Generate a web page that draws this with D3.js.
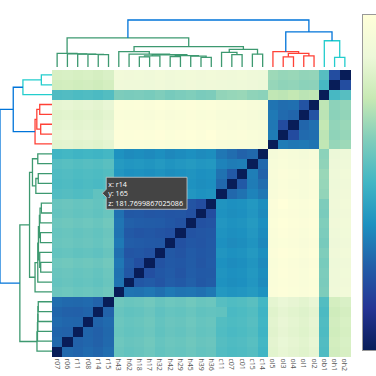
<!DOCTYPE html>
<html>
<head>
<meta charset="utf-8">
<script src="https://cdn.jsdelivr.net/npm/d3@7"></script>
<style>
  html, body { margin: 0; padding: 0; background: #fff; }
  svg { display: block; font-family: "Open Sans", "Liberation Sans", sans-serif; }
</style>
</head>
<body>
<div id="chart"></div>
<script>
"use strict";

// leaf order of the clustering (columns left to right, rows bottom to top)
const labels = ["r07", "r06", "r11", "r08", "r14", "r15",
    "h43", "h62", "h18", "h17", "h32", "h42", "h29", "h45", "h39", "h36",
    "c11", "c07", "c01", "c15", "c14",
    "ol5", "ol3", "ol4", "ol1", "ol2",
    "ob1", "oh1", "oh2"];

// pairwise distances, upper triangle: row i holds labels i+1 .. end
const upper = [
    [88, 85, 90, 86, 92, 188, 184, 186, 190, 183, 187, 185, 189, 184, 186, 172, 168, 170, 174, 160, 270, 276, 272, 268, 274, 170, 252, 258],
    [84, 87, 83, 89, 190, 186, 188, 192, 185, 189, 187, 191, 186, 188, 174, 170, 172, 176, 162, 272, 278, 274, 270, 276, 172, 254, 260],
    [86, 82, 88, 187, 183, 185, 189, 182, 186, 184, 188, 183, 185, 171, 167, 169, 173, 159, 269, 275, 271, 267, 273, 169, 251, 257],
    [85, 90, 189, 185, 187, 191, 184, 188, 186, 190, 185, 187, 173, 169, 171, 175, 161, 271, 277, 273, 269, 275, 171, 253, 259],
    [84, 186, 182, 184, 188, 181, 185, 183, 187, 182, 184, 181.7699867025086, 167, 169, 173, 159, 268, 274, 270, 266, 272, 168, 250, 256],
    [191, 187, 189, 193, 186, 190, 188, 192, 187, 189, 175, 171, 173, 177, 163, 273, 279, 275, 271, 277, 173, 255, 261],
    [98, 96, 100, 94, 102, 97, 99, 95, 101, 128, 124, 126, 130, 122, 312, 318, 314, 310, 316, 200, 288, 292],
    [74, 78, 72, 80, 76, 82, 75, 79, 122, 118, 120, 126, 116, 310, 316, 312, 308, 314, 198, 286, 290],
    [66, 74, 78, 72, 80, 76, 77, 124, 120, 122, 128, 118, 311, 317, 313, 309, 315, 199, 287, 291],
    [70, 76, 74, 79, 73, 78, 121, 117, 119, 125, 115, 309, 315, 311, 307, 313, 197, 285, 289],
    [75, 71, 78, 74, 77, 125, 121, 123, 129, 119, 313, 319, 315, 311, 317, 201, 289, 293],
    [68, 74, 72, 76, 120, 116, 118, 124, 114, 308, 314, 310, 306, 312, 196, 284, 288],
    [70, 73, 75, 123, 119, 121, 127, 117, 311, 317, 313, 309, 315, 199, 287, 291],
    [68, 71, 126, 122, 124, 130, 120, 314, 320, 316, 312, 318, 202, 290, 294],
    [64, 122, 118, 120, 126, 116, 310, 316, 312, 308, 314, 198, 286, 290],
    [124, 120, 122, 128, 118, 312, 322, 314, 310, 316, 200, 288, 292],
    [88, 96, 110, 100, 306, 312, 308, 304, 310, 212, 286, 290],
    [76, 104, 92, 305, 311, 307, 303, 309, 214, 285, 289],
    [106, 84, 307, 313, 309, 305, 311, 216, 287, 291],
    [88, 303, 309, 305, 301, 307, 210, 283, 287],
    [300, 306, 302, 298, 304, 208, 281, 285],
    [104, 100, 102, 98, 238, 214, 218],
    [62, 90, 92, 236, 210, 214],
    [86, 94, 240, 212, 216],
    [70, 235, 208, 212],
    [237, 209, 213],
    [165, 175],
    [64]
];

// clustering merges: [node id, left, right, height, colour key]
const merges = [
    ["r1", "r14", "r15", 85, "g"],
    ["r2", "r08", "r1", 87, "g"],
    ["r3", "r11", "r2", 88, "g"],
    ["r4", "r06", "r3", 90, "g"],
    ["R", "r07", "r4", 93, "g"],
    ["h1", "h18", "h17", 70, "g"],
    ["h2", "h1", "h32", 76, "g"],
    ["h3", "h42", "h29", 72, "g"],
    ["h4", "h39", "h36", 66, "g"],
    ["h5", "h45", "h4", 74, "g"],
    ["h6", "h3", "h5", 78, "g"],
    ["h7", "h2", "h6", 84, "g"],
    ["h8", "h62", "h7", 88, "g"],
    ["H", "h43", "h8", 105, "g"],
    ["c1", "c07", "c01", 85, "g"],
    ["c2", "c11", "c1", 100, "g"],
    ["c3", "c15", "c14", 88, "g"],
    ["C", "c2", "c3", 121, "g"],
    ["HC", "H", "C", 139, "g"],
    ["G", "R", "HC", 199, "g"],
    ["l1", "ol3", "ol4", 70, "r"],
    ["l2", "ol1", "ol2", 76, "r"],
    ["l3", "l1", "l2", 94, "r"],
    ["L", "ol5", "l3", 105, "r"],
    ["o1", "oh1", "oh2", 66, "c"],
    ["O", "ob1", "o1", 180, "c"],
    ["LO", "L", "O", 240, "b"],
    ["root", "G", "LO", 322, "b"]
];

const linkColors = { b: "rgb(0,116,217)", c: "rgb(35,205,205)", g: "rgb(61,153,112)", r: "rgb(255,65,54)" };

// YlGnBu colour scale stops
const scaleStops = [0, 0.125, 0.25, 0.375, 0.5, 0.625, 0.75, 0.875, 1];
const scaleColors = ["rgb(8,29,88)", "rgb(37,52,148)", "rgb(34,94,168)", "rgb(29,145,192)",
    "rgb(65,182,196)", "rgb(127,205,187)", "rgb(199,233,180)", "rgb(237,248,217)", "rgb(255,255,217)"];

// hovered cell shown in the tooltip
const hoverCell = { x: "r14", y: "c11" };

function draw() {
    const width = 376;
    const height = 376;
    const n = labels.length;

    // full symmetric matrix
    let z = labels.map(() => new Array(n).fill(0));
    for (let i = 0; i < upper.length; i++) {
        for (let k = 0; k < upper[i].length; k++) {
            let j = i + 1 + k;
            z[i][j] = upper[i][k];
            z[j][i] = upper[i][k];
        }
    }
    let zMax = d3.max(z, row => d3.max(row));

    let svg = d3.select("#chart").append("svg")
        .attr("width", width)
        .attr("height", height);

    // heatmap scales
    let x = d3.scaleBand().domain(labels).range([52, 350]);
    let y = d3.scaleBand().domain(labels.slice().reverse()).range([70, 356]);
    let color = d3.scaleLinear()
        .domain(scaleStops.map(s => s * zMax))
        .range(scaleColors)
        .interpolate(d3.interpolateRgb);

    let cells = [];
    for (let i = 0; i < n; i++) {
        for (let j = 0; j < n; j++) {
            cells.push({ col: labels[i], row: labels[j], z: z[i][j] });
        }
    }

    svg.append("g")
        .attr("class", "heatmap")
        .selectAll("rect")
        .data(cells)
        .enter()
        .append("rect")
        .attr("x", d => x(d.col))
        .attr("y", d => y(d.row))
        .attr("width", x.bandwidth() + 0.5)
        .attr("height", y.bandwidth() + 0.5)
        .attr("shape-rendering", "crispEdges")
        .style("fill", d => color(d.z));

    // x tick labels
    let xAxis = d3.axisBottom(x).tickSize(0).tickPadding(2);
    let gx = svg.append("g")
        .attr("transform", "translate(0,356)")
        .call(xAxis);
    gx.select(".domain").remove();
    gx.selectAll("text")
        .attr("transform", "rotate(90)")
        .attr("x", 2.5)
        .attr("y", 0)
        .attr("dy", "0.35em")
        .style("text-anchor", "start")
        .style("font-size", "7px")
        .style("font-family", "\"Open Sans\", sans-serif")
        .style("fill", "#555");

    // dendrogram node positions
    let pos = {};
    labels.forEach((l, i) => { pos[l] = { p: i, h: 0 }; });
    merges.forEach(m => {
        pos[m[0]] = { p: (pos[m[1]].p + pos[m[2]].p) / 2, h: m[3] };
    });

    let leafX = d3.scaleLinear().domain([-0.5, n - 0.5]).range(x.range());
    let leafY = d3.scaleLinear().domain([-0.5, n - 0.5]).range([356, 70]);
    let topH = d3.scaleLinear().domain([0, 322]).range([67, 20]);
    let leftH = d3.scaleLinear().domain([0, 322]).range([52, 0]);
    let line = d3.line();

    // top dendrogram
    svg.append("g")
        .selectAll("path")
        .data(merges)
        .enter()
        .append("path")
        .attr("d", m => {
            let a = pos[m[1]], b = pos[m[2]];
            return line([[leafX(a.p), topH(a.h)], [leafX(a.p), topH(m[3])],
                [leafX(b.p), topH(m[3])], [leafX(b.p), topH(b.h)]]);
        })
        .style("fill", "none")
        .style("stroke", m => linkColors[m[4]])
        .style("stroke-width", 1.3);

    // left dendrogram
    svg.append("g")
        .selectAll("path")
        .data(merges)
        .enter()
        .append("path")
        .attr("d", m => {
            let a = pos[m[1]], b = pos[m[2]];
            return line([[leftH(a.h), leafY(a.p)], [leftH(m[3]), leafY(a.p)],
                [leftH(m[3]), leafY(b.p)], [leftH(b.h), leafY(b.p)]]);
        })
        .style("fill", "none")
        .style("stroke", m => linkColors[m[4]])
        .style("stroke-width", 1.3);

    // colour bar
    let grad = svg.append("defs").append("linearGradient")
        .attr("id", "cbar")
        .attr("x1", 0).attr("y1", 1).attr("x2", 0).attr("y2", 0);
    grad.selectAll("stop")
        .data(scaleStops)
        .enter()
        .append("stop")
        .attr("offset", d => d)
        .attr("stop-color", (d, i) => scaleColors[i]);

    svg.append("rect")
        .attr("x", 362.5)
        .attr("y", 14.5)
        .attr("width", 30)
        .attr("height", 336)
        .style("fill", "url(#cbar)")
        .style("stroke", "#999")
        .style("stroke-width", 1);

    // tooltip for the hovered cell
    let ci = labels.indexOf(hoverCell.x);
    let ri = labels.indexOf(hoverCell.y);
    let tipX = x(hoverCell.x) + x.bandwidth() / 2 + 4;
    let tipY = y(hoverCell.y) + y.bandwidth() / 2;
    let tipLines = [`x: ${hoverCell.x}`, `y: ${5 + 10 * ri}`, `z: ${z[ci][ri]}`];

    let tip = svg.append("g")
        .attr("transform", `translate(${tipX},${tipY})`);
    let tipPath = tip.append("path")
        .style("fill", "#444")
        .style("stroke", "#ccc")
        .style("stroke-width", 0.8);
    let tipText = tip.selectAll("text")
        .data(tipLines)
        .enter()
        .append("text")
        .attr("x", 6)
        .attr("y", (d, i) => -6.6 + i * 9.6)
        .style("font-size", "7.2px")
        .style("fill", "#fff")
        .text(d => d);
    let textW = d3.max(tipText.nodes(), t => t.getComputedTextLength());
    let w = 6 + textW + 4;
    tipPath.attr("d", `M0,0L4,-4V-16H${w}V16H4V4Z`);
}

draw();
</script>
</body>
</html>
